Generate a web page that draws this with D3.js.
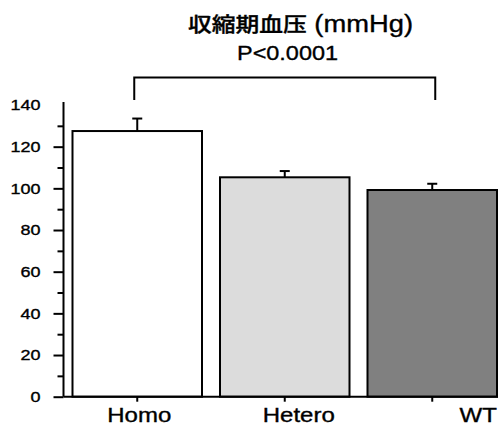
<!DOCTYPE html>
<html>
<head>
<meta charset="utf-8">
<script src="https://cdn.jsdelivr.net/npm/d3@7"></script>
<style>
	body { margin: 0; background: #fff; }
	text { font-family: "Liberation Sans", Arial, "Noto Sans CJK JP", sans-serif; fill: #000; stroke: #000; stroke-width: 0.35px; }
</style>
</head>
<body>
<script>

// systolic blood pressure by genotype

var groups = ['Homo', 'Hetero', 'WT'];
var means = [127.5, 105.3, 99.2];
var errors = [6, 3, 3];
var colors = ['#ffffff', '#dcdcdc', '#808080'];
var yTicks = [0, 20, 40, 60, 80, 100, 120, 140];
var yMinor = [10, 30, 50, 70, 90, 110, 130];
var titleJa = '収縮期血压';
var titleUnit = ' (mmHg)';
var pLabel = 'P<0.0001';
var labelShift = [2, 14, 46];

(function(){

	var w = 503;
	var h = 427;
	var stretch = 'scale(1.2,1)';

	var svg = d3.select('body')
				.append('svg')
				.attr('width', w)
				.attr('height', h);

	var x = d3.scaleBand()
		.domain(groups)
		.range([63.5, 506])
		.paddingInner(0.122)
		.paddingOuter(0.061);

	var y = d3.scaleLinear()
		.domain([0, 140])
		.range([396.7, 105]);

	// bars
	svg.selectAll('rect.bar')
		.data(groups)
		.enter()
		.append('rect')
		.attr('class', 'bar')
		.attr('x', function(d){ return x(d); })
		.attr('y', function(d, i){ return y(means[i]); })
		.attr('width', x.bandwidth())
		.attr('height', function(d, i){ return y(0) - y(means[i]); })
		.attr('fill', function(d, i){ return colors[i]; })
		.attr('stroke', '#000')
		.attr('stroke-width', 2);

	// error bars, upper only
	var eb = svg.selectAll('g.err')
		.data(groups)
		.enter()
		.append('g')
		.attr('class', 'err')
		.attr('stroke', '#000')
		.attr('stroke-width', 2);

	eb.append('line')
		.attr('x1', function(d){ return x(d) + x.bandwidth() / 2; })
		.attr('x2', function(d){ return x(d) + x.bandwidth() / 2; })
		.attr('y1', function(d, i){ return y(means[i]); })
		.attr('y2', function(d, i){ return y(means[i] + errors[i]); });

	eb.append('line')
		.attr('x1', function(d){ return x(d) + x.bandwidth() / 2 - 5; })
		.attr('x2', function(d){ return x(d) + x.bandwidth() / 2 + 5; })
		.attr('y1', function(d, i){ return y(means[i] + errors[i]); })
		.attr('y2', function(d, i){ return y(means[i] + errors[i]); });

	// y axis
	var yAxis = svg.append('g')
		.attr('transform', 'translate(' + x.range()[0] + ',0)')
		.call(d3.axisLeft(y).tickValues(yTicks).tickSize(10).tickSizeOuter(0).tickPadding(13));

	yAxis.select('.domain')
		.attr('d', 'M0,' + y(0) + 'V' + (y(140) - 3))
		.attr('stroke-width', 2);
	yAxis.selectAll('.tick line')
		.attr('stroke-width', 2)
		.attr('x2', function(d){ return d === 140 ? 0 : -10; });
	yAxis.selectAll('.tick text')
		.attr('font-size', 15)
		.attr('transform', function(){
			return 'translate(' + d3.select(this).attr('x') + ',0) ' + stretch + ' translate(' + (-d3.select(this).attr('x')) + ',0)';
		});

	svg.append('g')
		.attr('transform', 'translate(' + x.range()[0] + ',0)')
		.call(d3.axisLeft(y).tickValues(yMinor).tickSize(6).tickFormat(''))
		.call(function(g){ g.select('.domain').remove(); })
		.selectAll('.tick line')
		.attr('stroke-width', 2);

	// x axis
	var xAxis = svg.append('g')
		.attr('transform', 'translate(0,' + y(0) + ')')
		.call(d3.axisBottom(x).tickSize(5).tickSizeOuter(0).tickFormat(''));

	xAxis.select('.domain')
		.attr('d', 'M' + x.range()[0] + ',0H' + 498)
		.attr('stroke-width', 2);
	xAxis.selectAll('.tick line')
		.attr('stroke-width', 2);

	svg.selectAll('text.xlab')
		.data(groups)
		.enter()
		.append('text')
		.attr('class', 'xlab')
		.attr('text-anchor', 'middle')
		.attr('font-size', 20)
		.attr('transform', function(d, i){
			return 'translate(' + (x(d) + x.bandwidth() / 2 + labelShift[i]) + ',422) ' + stretch;
		})
		.text(function(d){ return d; });

	// significance bracket Homo vs WT
	var bx1 = x(groups[0]) + x.bandwidth() / 2 - 3;
	var bx2 = x(groups[2]) + x.bandwidth() / 2 + 3;
	svg.append('path')
		.attr('d', 'M' + bx1 + ',100V77.5H' + bx2 + 'V100')
		.attr('fill', 'none')
		.attr('stroke', '#000')
		.attr('stroke-width', 2);

	svg.append('text')
		.attr('x', 237)
		.attr('y', 60)
		.attr('font-size', 20)
		.attr('textLength', 101)
		.attr('lengthAdjust', 'spacingAndGlyphs')
		.text(pLabel);

	var t = svg.append('text')
		.attr('x', 188)
		.attr('y', 32)
		.attr('textLength', 225)
		.attr('lengthAdjust', 'spacingAndGlyphs');
	t.append('tspan')
		.attr('font-size', 20)
		.attr('font-weight', 500)
		.text(titleJa);
	t.append('tspan')
		.attr('font-size', 23)
		.text(titleUnit);

})();

</script>
</body>
</html>
